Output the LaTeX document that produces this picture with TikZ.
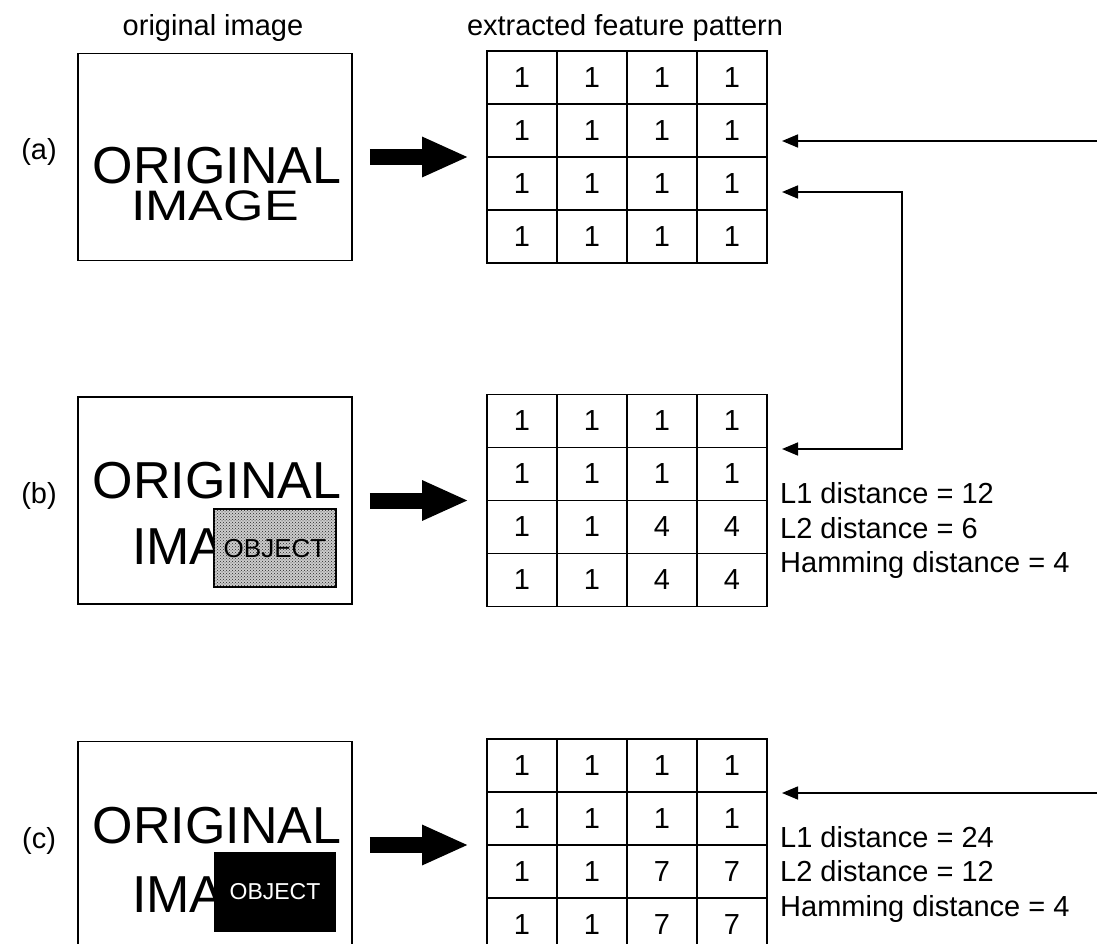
\documentclass[tikz,border=0pt]{standalone}
\usepackage{fontspec}
\setmainfont{Liberation Sans}
\usetikzlibrary{matrix,arrows.meta,patterns}

\begin{document}
\begin{tikzpicture}[x=1pt,y=-1pt,
  label/.style={font=\fontsize{29}{34}\selectfont, inner sep=0pt},
  frame/.style={draw, line width=1.6pt, minimum width=274pt, minimum height=207pt, inner sep=0pt},
  bigtxt/.style={font=\fontsize{52}{52}\selectfont, inner sep=0pt, anchor=base},
  featgrid/.style={matrix of nodes, inner sep=0pt, column sep=-1.6pt, row sep=-1.6pt,
    nodes={draw, line width=1.6pt, minimum width=70pt, minimum height=53pt, inner sep=0pt,
           font=\fontsize{29}{34}\selectfont}},
  bigarrow/.style={line width=16pt, -{Triangle[length=47pt,width=37pt]}},
  wire/.style={line width=1.6pt, -{Triangle[length=16pt,width=13pt]}},
  wireboth/.style={line width=1.6pt, {Triangle[length=16pt,width=13pt]}-{Triangle[length=16pt,width=13pt]}},
  objgray/.style={draw, line width=1.6pt, minimum width=122pt, minimum height=78pt, inner sep=0pt,
    fill=gray!40, postaction={pattern=crosshatch dots, pattern color=black!85},
    text depth=-4pt, font=\fontsize{26}{26}\selectfont},
  objblack/.style={fill=black, minimum width=122pt, minimum height=80pt, inner sep=0pt,
    text=white, font=\fontsize{23}{23}\selectfont}]
\useasboundingbox (0,0) rectangle (1097,944);
\clip (0,0) rectangle (1097,944);

% column headings
\node[label, anchor=base] (hdimg) at (213,36) {original image};
\node[label, anchor=base] (hdfeat) at (625,36) {extracted feature pattern};

% row labels
\node[label, anchor=base] (la) at (39,160) {(a)};
\node[label, anchor=base] (lb) at (39,503) {(b)};
\node[label, anchor=base] (lc) at (39,848) {(c)};

% input images
\node[frame] (boxa) at (215,157) {};
\node[frame] (boxb) at (215,500.5) {};
\node[frame] (boxc) at (215,845) {};

\node[bigtxt, text depth=0pt] (ta1) at (217,184) {ORIGINAL};
\node[bigtxt, text height=31pt] (ta2) at (215,221) {\scalebox{1}[0.82]{IMAGE}};

\node[bigtxt] (tb1) at (217,498) {ORIGINAL};
\node[bigtxt, anchor=base west] (tb2) at (132,564) {IMA};
\node[objgray] (objb) at (275,548) {OBJECT};

\node[bigtxt] (tc1) at (217,843) {ORIGINAL};
\node[bigtxt, anchor=base west] (tc2) at (132,912) {IMA};
\node[objblack] (objc) at (275,892) {OBJECT};

% feature patterns
\matrix[featgrid] (ga) at (627,157) {
  1 & 1 & 1 & 1 \\
  1 & 1 & 1 & 1 \\
  1 & 1 & 1 & 1 \\
  1 & 1 & 1 & 1 \\
};
\matrix[featgrid] (gb) at (627,500.5) {
  1 & 1 & 1 & 1 \\
  1 & 1 & 1 & 1 \\
  1 & 1 & 4 & 4 \\
  1 & 1 & 4 & 4 \\
};
\matrix[featgrid] (gc) at (627,845) {
  1 & 1 & 1 & 1 \\
  1 & 1 & 1 & 1 \\
  1 & 1 & 7 & 7 \\
  1 & 1 & 7 & 7 \\
};

% extraction arrows
\draw[bigarrow] ([xshift=17pt]boxa.east) -- ([xshift=-17pt]ga.west);
\draw[bigarrow] ([xshift=17pt]boxb.east) -- ([xshift=-17pt]gb.west);
\draw[bigarrow] ([xshift=17pt]boxc.east) -- ([xshift=-17pt]gc.west);

% comparison links
\coordinate (ina) at (1100,141);
\coordinate (tipa1) at (782,141);
\coordinate (tipa2) at (782,192);
\coordinate (tipb) at (782,449);
\coordinate (inc) at (1100,793);
\coordinate (tipc) at (782,793);
\draw[wire] (ina) -- (tipa1);
\draw[wireboth] (tipa2) -- ++(120,0) |- (tipb);
\draw[wire] (inc) -- (tipc);

% distances
\node[label, anchor=base west] (db1) at (780,503) {L1 distance = 12};
\node[label, anchor=base west] (db2) at (780,538) {L2 distance = 6};
\node[label, anchor=base west] (db3) at (780,572) {Hamming distance = 4};
\node[label, anchor=base west] (dc1) at (780,847) {L1 distance = 24};
\node[label, anchor=base west] (dc2) at (780,881) {L2 distance = 12};
\node[label, anchor=base west] (dc3) at (780,916) {Hamming distance = 4};
\end{tikzpicture}
\end{document}
